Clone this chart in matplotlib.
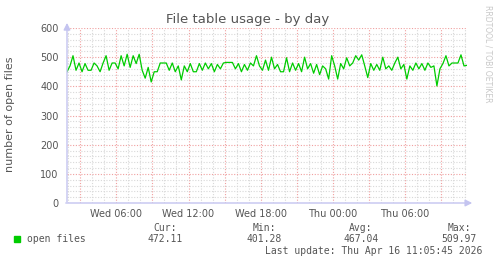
import numpy as np
import matplotlib
matplotlib.use("Agg")
import matplotlib.pyplot as plt

# open files, 15 min samples, hours from Wed 00:00
start_hour = 1.9
step_hour = 0.25
open_files = [
    450, 470, 505, 455, 480, 450, 478, 455, 455, 480,
    470, 450, 480, 505, 455, 480, 480, 460, 505, 470,
    510, 465, 505, 478, 509.97, 455, 428, 465, 415, 450,
    450, 480, 480, 480, 455, 480, 450, 470, 422, 470,
    450, 478, 450, 450, 478, 455, 480, 460, 478, 450,
    475, 460, 480, 482, 482, 482, 460, 478, 450, 475,
    455, 480, 470, 505, 470, 455, 490, 455, 500, 460,
    475, 450, 450, 498, 450, 480, 455, 478, 450, 500,
    460, 478, 445, 475, 440, 470, 460, 425, 505, 470,
    425, 478, 460, 498, 470, 480, 505, 490, 508, 470,
    430, 478, 455, 475, 455, 500, 460, 470, 455, 480,
    500, 460, 475, 425, 470, 455, 480, 460, 478, 455,
    480, 465, 470, 401.28, 460, 478, 505, 470, 480, 480,
    480, 508, 470, 472.11,
]
tick_hours = [6, 12, 18, 24, 30]
tick_labels = ["Wed 06:00", "Wed 12:00", "Wed 18:00", "Thu 00:00", "Thu 06:00"]
y_ticks = [0, 100, 200, 300, 400, 500, 600]

hours = start_hour + step_hour * np.arange(len(open_files))
x_end = start_hour + 400 / 12.03

fig = plt.figure(figsize=(4.97, 2.64), dpi=100)
ax = fig.add_axes([67 / 497, 1 - 203 / 264, 400 / 497, 175 / 264])
ax.set_xlim(start_hour, x_end)
ax.set_ylim(0, 600)

# grid like rrdtool: minor grey, major red
for h in np.arange(2, 36, 1):
    c = "#f0a0a0" if h % 3 == 0 else "#d8d8d8"
    ax.axvline(h, color=c, lw=0.8, ls=(0, (1, 1.5)), zorder=1)
for v in range(20, 601, 20):
    c = "#f0a0a0" if v % 100 == 0 else "#d8d8d8"
    ax.axhline(v, color=c, lw=0.8, ls=(0, (1, 1.5)), zorder=1)

ax.plot(hours, open_files, color="#00cc00", lw=0.9, zorder=3)

for s in ax.spines.values():
    s.set_visible(False)
ax.set_xticks(tick_hours)
ax.set_xticklabels(tick_labels)
ax.set_yticks(y_ticks)
ax.tick_params(length=0, labelsize=7, labelcolor="#555555")
ax.tick_params(axis="y", pad=6)
ax.tick_params(axis="x", pad=4)

# axis lines with arrows
axc = "#c4c4f0"
ax.annotate("", xy=(0, 1.045), xytext=(0, -0.01), xycoords="axes fraction",
            arrowprops=dict(arrowstyle="-|>,head_width=0.2,head_length=0.4",
                            color=axc, lw=1), annotation_clip=False)
ax.annotate("", xy=(1.02, 0), xytext=(-0.01, 0), xycoords="axes fraction",
            arrowprops=dict(arrowstyle="-|>,head_width=0.2,head_length=0.4",
                            color=axc, lw=1), annotation_clip=False)

fig.text(248 / 497, 1 - 19 / 264, "File table usage - by day", ha="center",
         va="center", fontsize=9.5, color="#555555")
fig.text(10 / 497, 1 - 114 / 264, "number of open files", rotation=90,
         ha="center", va="center", fontsize=8, color="#555555")
fig.text(488 / 497, 1 - 5 / 264, "RRDTOOL / TOBI OETIKER", rotation=270,
         ha="center", va="top", fontsize=5.5, color="#c8c8c8")

# legend block
mono = dict(family="DejaVu Sans Mono", fontsize=7, color="#555555")
fig.patches.append(plt.Rectangle((14 / 497, 1 - 242 / 264), 6 / 497, 6 / 264,
                                 transform=fig.transFigure, color="#00cc00"))
fig.text(27 / 497, 1 - 239 / 264, "open files", ha="left", va="center", **mono)
stats = [("Cur:", "472.11", 165), ("Min:", "401.28", 264),
         ("Avg:", "467.04", 361), ("Max:", "509.97", 459)]
for head, val, xc in stats:
    fig.text(xc / 497, 1 - 228 / 264, head, ha="center", va="center", **mono)
    fig.text(xc / 497, 1 - 239 / 264, val, ha="center", va="center", **mono)
fig.text(482 / 497, 1 - 251 / 264, "Last update: Thu Apr 16 11:05:45 2026",
         ha="right", va="center", **mono)

fig.savefig("out.png", dpi=100)
